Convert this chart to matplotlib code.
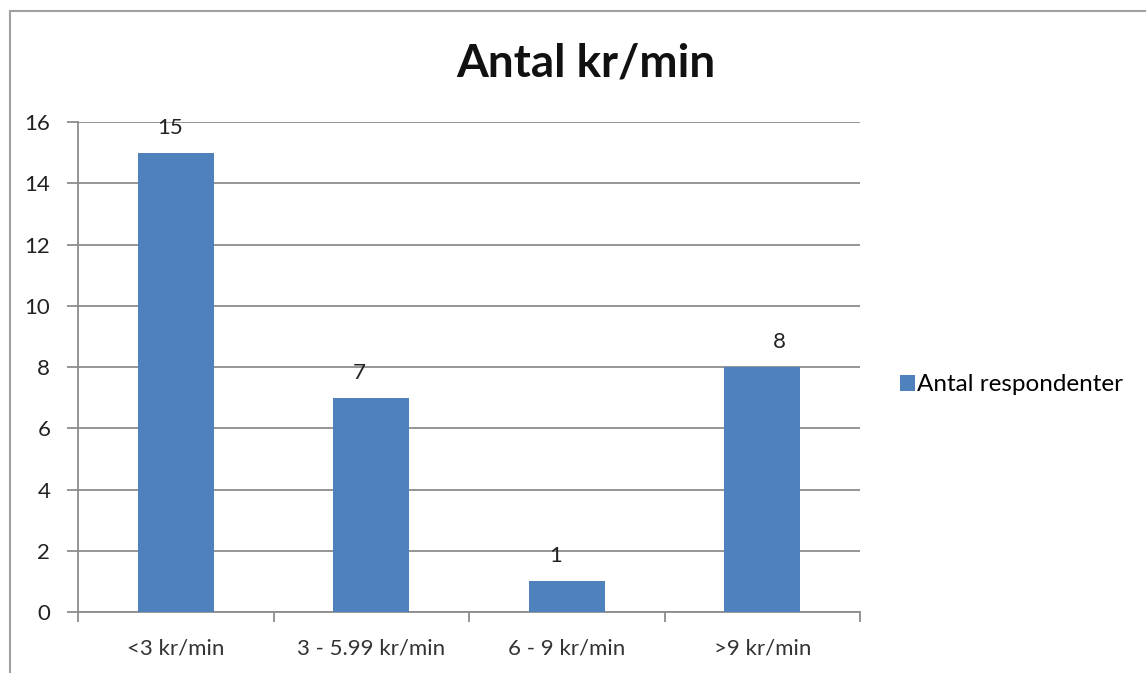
import numpy as np
import matplotlib.pyplot as plt
from matplotlib.lines import Line2D

# antal respondenter per prisklass
categories = ["<3 kr/min", "3 - 5.99 kr/min", "6 - 9 kr/min", ">9 kr/min"]
counts = [15, 7, 1, 8]
yticks = [0, 2, 4, 6, 8, 10, 12, 14, 16]

plt.rcParams['font.family'] = ['Lato', 'DejaVu Sans']

bar_color = "#4F81BD"
grid_color = "#8C8C8C"

fig = plt.figure(figsize=(11.46, 6.73), dpi=100)
ax = fig.add_axes([0.0681, 0.0906, 0.6824, 0.7281])

x = np.arange(len(categories))
bars = ax.bar(x, counts, width=0.39, color=bar_color, zorder=3,
              label="Antal respondenter")

# värdeetiketter lite ovanför staplarna
label_dx = [-4, -9, -8, 12]
for xi, v, dx in zip(x, counts, label_dx):
    ax.annotate(str(v), (xi, v), xytext=(dx, 18), textcoords="offset points",
                ha="center", va="center", fontsize=16, color="#222222")

ax.set_xlim(-0.5, len(categories) - 0.5)
ax.set_ylim(0, 16)
ax.set_yticks(yticks)
ax.yaxis.grid(True, color=grid_color, linewidth=1.3, zorder=0)
ax.set_axisbelow(True)

ax.set_xticks(x)
ax.set_xticklabels(categories, fontsize=16, color="#333333")
ax.set_xticks(np.arange(-0.5, len(categories)), minor=True)
ax.tick_params(axis="x", which="major", length=0, pad=19)
ax.tick_params(axis="x", which="minor", length=7, color=grid_color, width=1.3)
ax.tick_params(axis="y", length=8, color=grid_color, width=1.3,
               labelsize=16, labelcolor="#222222", pad=12)

for side in ["top", "right"]:
    ax.spines[side].set_visible(False)
for side in ["left", "bottom"]:
    ax.spines[side].set_color(grid_color)
    ax.spines[side].set_linewidth(1.3)

fig.text(0.511, 0.906, "Antal kr/min", ha="center", va="center",
         fontsize=33, fontweight="bold", color="#111111")

fig.legend(loc="center left", bbox_to_anchor=(0.775, 0.428), frameon=False,
           fontsize=17.5, handlelength=0.6, handleheight=0.6,
           handletextpad=0.1, borderpad=0)

# diagramramen
fx0, fy0 = 10 / 1146, 1 - 11 / 673
fig.add_artist(Line2D([fx0, fx0], [0, fy0], color="#A0A0A0", linewidth=1.5,
                      transform=fig.transFigure))
fig.add_artist(Line2D([fx0, 1], [fy0, fy0], color="#A0A0A0", linewidth=1.5,
                      transform=fig.transFigure))

fig.savefig("out.png", dpi=100)
